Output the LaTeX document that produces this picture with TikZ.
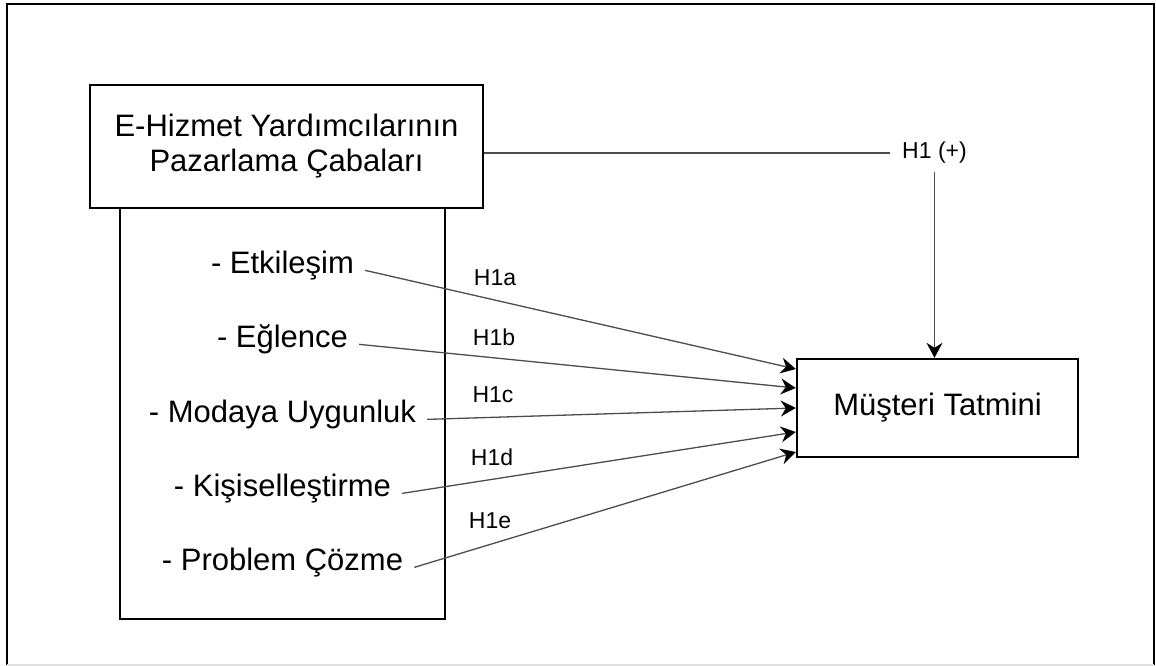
\documentclass[tikz,border=0pt]{standalone}
\usepackage{fontspec}
\setmainfont{Liberation Sans}
\usetikzlibrary{positioning,arrows.meta,calc}
\tikzset{
  bigbox/.style={draw,line width=2.4pt,inner sep=0pt,align=center,font=\fontsize{31}{35}\selectfont},
  dimtext/.style={anchor=base,inner ysep=0pt,inner xsep=11pt,font=\fontsize{31}{35}\selectfont},
  hlabel/.style={inner sep=0pt,font=\fontsize{23}{27}\selectfont},
  link/.style={draw=black!70,line width=1.3pt},
  every edge/.style={link,-{Stealth[length=15pt,width=16pt,inset=5pt,color=black]}},
}
\begin{document}
\begin{tikzpicture}[x=1pt,y=-1pt]
\useasboundingbox (0,0) rectangle (1156,666);

% frame
\draw[line width=2.2pt] (7,665) -- (7,4) -- (1154,4) -- (1154,665);
\draw[black!12,line width=1.5pt] (7,665) -- (1154,665);

% left side
\node[bigbox,minimum width=325pt,minimum height=411pt] (dims) at (282.5,413.5) {};
\node[bigbox,fill=white,minimum width=393pt,minimum height=123pt] (eh) at (286.5,146.5) {E-Hizmet Yardımcılarının\\Pazarlama Çabaları};

\node[dimtext] (etk) at (282.5,273) {- Etkileşim};
\node[dimtext] (egl) at (282.5,347) {- Eğlence};
\node[dimtext] (mod) at (282.5,422) {- Modaya Uygunluk};
\node[dimtext] (kis) at (282.5,496) {- Kişiselleştirme};
\node[dimtext] (pro) at (282.5,570) {- Problem Çözme};

% right side
\node[bigbox,minimum width=281pt,minimum height=98pt] (mt) at (937.5,408) {Müşteri Tatmini};
\node[hlabel,inner xsep=12pt,inner ysep=8pt] (h1) at (934.5,153) {H1 (+)};

\node[hlabel] (h1a) at (495,277.5) {H1a};
\node[hlabel] (h1b) at (494,337) {H1b};
\node[hlabel] (h1c) at (493,395) {H1c};
\node[hlabel] (h1d) at (492,457) {H1d};
\node[hlabel] (h1e) at (490,521) {H1e};

\draw[link] (h1.west -| eh.east) -- (h1.west);
\path
(h1.south) edge (h1.south |- mt.north)
(etk.mid east) edge ($(mt.west)+(0,-39)$)
(egl.mid east) edge ($(mt.west)+(0,-20)$)
(mod.mid east) edge ($(mt.west)+(0,0)$)
(kis.mid east) edge ($(mt.west)+(0,24)$)
(pro.mid east) edge ($(mt.west)+(0,44)$);

\end{tikzpicture}
\end{document}
